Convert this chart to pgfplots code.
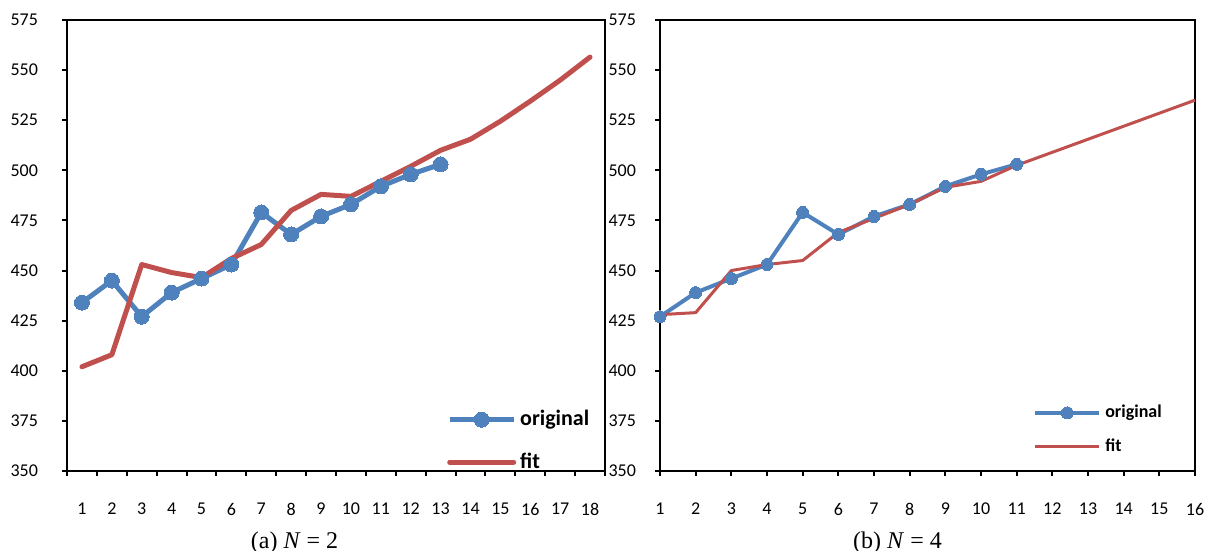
\documentclass[border=0pt]{standalone}
\usepackage{fontspec}
\setmainfont{Carlito}
\newfontfamily\capfont{Liberation Serif}
\usepackage{pgfplots}
\pgfplotsset{compat=1.18}
\definecolor{exblue}{RGB}{79,129,189}
\definecolor{exred}{RGB}{192,80,77}

\pgfplotsset{
 common/.style={
  scale only axis, ymin=350, ymax=575, ytick={350,375,...,575},
  axis line style={line width=1pt, black},
  tick style={line width=1pt, black},
  major tick length=2.5pt,
  tick align=outside, xtick pos=bottom, ytick pos=left,
  /pgf/number format/assume math mode=true,
  tick label style={font=\fontsize{9}{10}\selectfont},
  clip=false,
  legend cell align=left,
 }
}

\begin{document}
\begin{tikzpicture}
\path[use as bounding box] (0,0) rectangle (603pt,275.5pt);

% ---------------- (a) N = 2 ----------------
\begin{axis}[common,
  at={(33.5pt,40pt)}, anchor=south west, width=269pt, height=225.5pt,
  xmin=0.5, xmax=18.5,
  xtick={0.5,1.5,...,18.5},
  xticklabels={1,2,3,4,5,6,7,8,9,10,11,12,13,14,15,16,17,18},
  x tick label as interval,
  yticklabel style={xshift=-8.5pt},
  xticklabel style={yshift=-10pt},
  xlabel={\capfont (a) \textit{N} = 2},
  xlabel style={at={(axis description cs:0.423,0)}, anchor=center, yshift=-36pt, font=\fontsize{12}{14}\selectfont},
  legend style={draw=none, fill=none, at={(axis description cs:0.706,0.144)}, anchor=north west,
    font=\bfseries\fontsize{11}{13}\selectfont, row sep=8pt, inner sep=0pt},
  legend image code/.code={\draw[mark repeat=2, mark phase=2] plot coordinates {(0pt,0pt) (16pt,0pt) (32pt,0pt)};},
]
\addplot[exblue, line width=2.5pt, line join=round, mark=*, mark size=3.75pt, mark options={solid, fill=exblue, draw=exblue, line width=0pt}]
 coordinates {(1,434) (2,445) (3,427) (4,439) (5,446) (6,453) (7,479) (8,468) (9,477) (10,483) (11,492) (12,498) (13,503)};
\addlegendentry{original}
\addplot[exred, line width=2.5pt, line join=round, line cap=round, mark=none]
 coordinates {(1,402) (2,408) (3,453) (4,449) (5,446.5) (6,456) (7,463) (8,480) (9,488) (10,487) (11,494.5) (12,502) (13,510) (14,515.5) (15,524.5) (16,534.5) (17,545) (18,556.5)};
\addlegendentry{fit}
\end{axis}

% ---------------- (b) N = 4 ----------------
\begin{axis}[common,
  at={(330pt,40pt)}, anchor=south west, width=267.5pt, height=225.5pt,
  xmin=1, xmax=16,
  xtick={1,...,16},
  yticklabel style={xshift=-6pt},
  xticklabel style={yshift=-10pt},
  xlabel={\capfont (b) \textit{N} = 4},
  xlabel style={at={(axis description cs:0.444,0)}, anchor=center, yshift=-36pt, font=\fontsize{12}{14}\selectfont},
  legend style={draw=none, fill=none, at={(axis description cs:0.697,0.156)}, anchor=north west,
    font=\bfseries\fontsize{9}{11}\selectfont, row sep=5pt, inner sep=0pt},
  legend image code/.code={\draw[mark repeat=2, mark phase=2] plot coordinates {(0pt,0pt) (16pt,0pt) (32pt,0pt)};},
]
\addplot[exblue, line width=2pt, line join=round, mark=*, mark size=3pt, mark options={solid, fill=exblue, draw=exblue, line width=0pt}]
 coordinates {(1,427) (2,439) (3,446) (4,453) (5,479) (6,468) (7,477) (8,483) (9,492) (10,498) (11,503)};
\addlegendentry{original}
\addplot[exred, line width=1.5pt, line join=round, mark=none]
 coordinates {(1,428) (2,429) (3,450) (4,453) (5,455) (6,469) (7,476) (8,483) (9,491.5) (10,494.5) (11,502.5) (12,509) (13,515.5) (14,522) (15,528.5) (16,535)};
\addlegendentry{fit}
\end{axis}
\end{tikzpicture}
\end{document}
